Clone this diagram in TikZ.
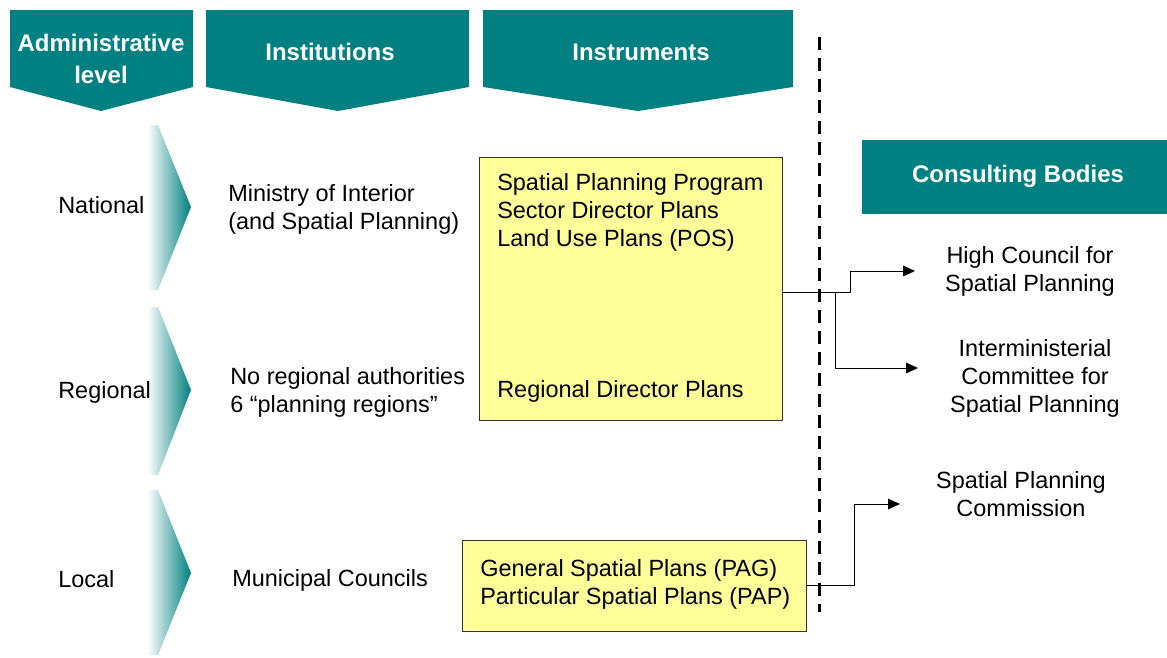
\documentclass[tikz,border=0pt]{standalone}
\usepackage{fontspec}
\setmainfont{Liberation Sans}
\usepackage{xcolor}
\usepackage{tikz}
\usetikzlibrary{arrows.meta,positioning,calc}

\definecolor{headteal}{RGB}{0,128,128}
\definecolor{planyellow}{RGB}{255,255,153}
\pgfdeclarehorizontalshading{chevshade}{100bp}{color(0bp)=(white); color(25bp)=(white);
  color(48bp)=(white); color(75bp)=(headteal); color(100bp)=(headteal)}

\begin{document}
\begin{tikzpicture}[
  x=0.75pt, y=-0.75pt,
  >=Stealth,
  every node/.style={font=\fontsize{17.6}{21}\selectfont, inner sep=0pt},
  head/.style={fill=headteal},
  headtext/.style={text=white, align=center,
    font=\fontsize{18}{24}\selectfont\bfseries},
  chevron/.style={shading=chevshade, draw=none},
  level/.style={anchor=west},
  inst/.style={anchor=west, align=left},
  plan/.style={draw=black!80, fill=planyellow, line width=0.6pt},
  planline/.style={anchor=west, align=left},
  body/.style={align=center},
  link/.style={-{Triangle[length=9pt,width=8pt]}, line width=0.75pt},
  border/.style={line width=2.25pt, dash pattern=on 9.75pt off 6pt},
]
\useasboundingbox (0,0) rectangle (1167,657);

% Column headers
\fill[head] (10,10) -- (193,10) -- (193,87) -- (101,111) -- (10,87) -- cycle;
\fill[head] (206,10) -- (469,10) -- (469,87) -- (338,111) -- (206,87) -- cycle;
\fill[head] (483,10) -- (793,10) -- (793,87) -- (638,111) -- (483,87) -- cycle;
\node[headtext] at (101,59) (hadm) {Administrative\\level};
\node[headtext] at (330,52) (hinst) {Institutions};
\node[headtext] at (641,52) (hinstr) {Instruments};

% Level chevrons
\shade[chevron] (110,125) -- (158,125) -- (191,207) -- (158,290) -- (110,290) -- cycle;
\shade[chevron] (110,307) -- (158,307) -- (191,390) -- (158,475) -- (110,475) -- cycle;
\shade[chevron] (110,490) -- (158,490) -- (191,573) -- (158,655) -- (110,655) -- cycle;

% Administrative levels
\node[level] at (58,205) (nat) {National};
\node[level] at (58,392) (reg) {Regional};
\node[level] at (58,579) (loc) {Local};

% Institutions
\node[inst] at (228,209.5) (min) {Ministry of Interior\\(and Spatial Planning)};
\node[inst] at (230,392) (noreg) {No regional authorities\\6 “planning regions”};
\node[inst] at (232,580) (mun) {Municipal Councils};

% Instruments
\node[plan, minimum width=227.25pt, minimum height=197.25pt] at (630.5,288.5) (box1) {};
\node[plan, minimum width=258pt, minimum height=68.25pt] at (634,585.5) (box2) {};
\node[planline] at (497,212) (natplans) {Spatial Planning Program\\Sector Director Plans\\Land Use Plans (POS)};
\node[planline] at (497,391) (regplans) {Regional Director Plans};
\node[planline] at (480,584.5) (locplans) {General Spatial Plans (PAG)\\Particular Spatial Plans (PAP)};

% Separation line
\coordinate (btop) at (819,37);
\coordinate (bbot) at (819,612);
\draw[border] (btop) -- (bbot);

% Consulting bodies
\fill[head] (862,140) rectangle (1167,214);
\node[headtext] at (1018,176) (cons) {Consulting Bodies};
\node[body] at (1030,271) (hc) {High Council for\\Spatial Planning};
\node[body] at (1035,378) (imc) {Interministerial\\Committee for\\Spatial Planning};
\node[body] at (1021,494) (spc) {Spatial Planning\\Commission};

% Connectors
\coordinate (j1) at (850,271);
\coordinate (j2) at (835,292);
\coordinate (j3) at (854,504);
\coordinate (t1) at (915,271);
\coordinate (t2) at (918,368);
\coordinate (t3) at (900,504);
\draw[link] (box1.east |- j2) -| (j1) -- (t1);
\draw[link] (j2) |- (t2);
\draw[link] (box2.east) -| (j3) -- (t3);

\end{tikzpicture}
\end{document}
